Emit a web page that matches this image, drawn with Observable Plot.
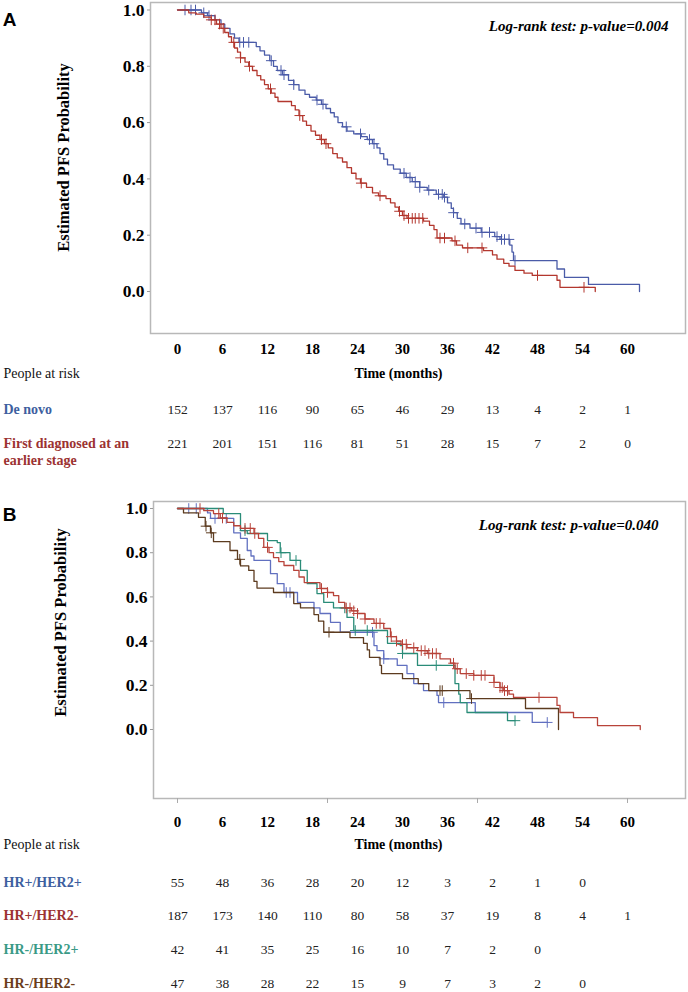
<!DOCTYPE html>
<html>
<head>
<meta charset="utf-8">
<script src="https://cdn.jsdelivr.net/npm/d3@7"></script>
<script src="https://cdn.jsdelivr.net/npm/@observablehq/plot@0.6"></script>
<style>
  html, body { margin: 0; padding: 0; background: #fff; overflow: hidden; }
  #chart svg { display: block; }
</style>
</head>
<body>
<div id="chart"></div>
<script>
// ---------- shared ----------
const months = [0, 6, 12, 18, 24, 30, 36, 42, 48, 54, 60];
const yTicks = [0, 0.2, 0.4, 0.6, 0.8, 1.0];

// ---------- Panel A data (time in months, survival after step) ----------
const deNovoSteps = [
  [0,1.0],[3.2,0.99],[4,0.98],[5,0.965],[5.8,0.95],[6.3,0.935],[7,0.915],[7.6,0.90],[8.2,0.885],
  [10.5,0.87],[11,0.855],[11.6,0.84],[12.3,0.82],[12.8,0.80],[13.3,0.785],[14,0.77],[14.8,0.75],
  [15.5,0.735],[16.2,0.715],[17,0.70],[17.6,0.69],[18.5,0.68],[19.2,0.665],[19.8,0.65],[20.4,0.635],
  [20.9,0.62],[21.4,0.60],[22,0.585],[22.6,0.57],[23.5,0.56],[24.5,0.55],[25.3,0.54],[26,0.525],
  [26.6,0.51],[27,0.49],[27.5,0.47],[28,0.45],[28.8,0.435],[29.7,0.42],[30.5,0.405],[31.3,0.39],
  [32.3,0.37],[33.3,0.36],[34.5,0.345],[35.5,0.335],[36,0.315],[36.5,0.295],[36.8,0.28],[37.3,0.26],
  [37.8,0.24],[39,0.225],[40.5,0.21],[42.3,0.195],[43,0.185],[44.3,0.165],[44.6,0.14],[44.8,0.11],
  [50.6,0.08],[51.6,0.05],[54.8,0.025],[61.6,0.0]
];
const earlierSteps = [
  [0,1.0],[1.5,0.99],[2.5,0.985],[3.5,0.975],[4.5,0.965],[5.2,0.95],[5.8,0.935],[6.3,0.92],[6.8,0.905],
  [7.2,0.885],[7.6,0.865],[8,0.85],[8.4,0.83],[9,0.815],[9.5,0.80],[10,0.785],[10.6,0.767],[11.1,0.752],
  [11.6,0.735],[12.1,0.72],[12.5,0.705],[13,0.69],[13.4,0.675],[15.2,0.66],[15.7,0.645],[16.2,0.625],
  [16.7,0.605],[17.2,0.59],[17.8,0.57],[18.4,0.555],[19,0.54],[19.6,0.525],[20.1,0.51],[20.7,0.49],
  [21.3,0.475],[22,0.46],[22.6,0.44],[23.2,0.42],[23.8,0.40],[24.4,0.385],[25.2,0.37],[26,0.35],
  [26.8,0.34],[27.8,0.33],[28.4,0.315],[29,0.30],[29.5,0.285],[30,0.27],[30.6,0.26],[32.8,0.25],
  [33.6,0.235],[34.2,0.22],[34.6,0.19],[36.6,0.18],[37.2,0.165],[38,0.155],[40.8,0.145],[42,0.13],
  [42.6,0.115],[43.5,0.10],[44.2,0.09],[45,0.075],[46.2,0.065],[47.3,0.057],[50.6,0.04],[51,0.015],[55.7,0.0]
];
const deNovoCensor = [1,1.8,2.4,3.5,4.2,8.3,8.8,9.5,12.5,13.8,14.2,15.5,18.6,19.4,22.5,24.4,25.6,26.2,
  30.2,31,31.7,32.3,33.5,34.8,35.3,35.6,36.8,38.3,39.8,40.6,41.6,42.6,43.2,43.6,44.2,45.0];
const earlierCensor = [4.5,5,5.6,6.1,7.5,8.4,9.6,12.4,16.3,19.2,19.8,24.5,27,29.6,30.2,30.8,31.3,31.7,
  32.2,32.7,35,35.6,37,38.7,40.6,48,54.2];
const deNovoRisk = [152, 137, 116, 90, 65, 46, 29, 13, 4, 2, 1];
const earlierRisk = [221, 201, 151, 116, 81, 51, 28, 15, 7, 2, 0];

// ---------- Panel B data ----------
const hrpHer2pSteps = [
  [0,1.0],[4,0.98],[4.4,0.955],[7.5,0.89],[8.4,0.865],[9.3,0.81],[9.8,0.785],[10.2,0.765],[12.4,0.705],
  [13.3,0.66],[14.2,0.62],[16,0.575],[18.2,0.55],[19,0.525],[20.4,0.485],[21.7,0.44],[26.2,0.38],
  [26.6,0.357],[27.5,0.32],[29.3,0.29],[30.6,0.253],[31.5,0.208],[32.8,0.176],[34.6,0.154],[34.8,0.122],
  [39.7,0.077],[47.3,0.032],[49.3,0.032]
];
const hrpHer2nSteps = [
  [0,1.0],[3.5,0.99],[4.8,0.977],[5.7,0.957],[6.6,0.937],[7.5,0.922],[8.4,0.91],[10.2,0.887],[10.8,0.865],
  [11.5,0.824],[12.2,0.80],[12.8,0.778],[13.5,0.76],[14.2,0.742],[15.5,0.72],[16.2,0.69],[16.9,0.665],
  [19,0.638],[20,0.62],[20.8,0.606],[21.5,0.575],[22.3,0.55],[23.2,0.537],[24,0.525],[25,0.50],
  [26.2,0.48],[27.5,0.457],[28.4,0.42],[29.2,0.40],[29.8,0.385],[30.6,0.37],[32,0.357],[33.3,0.344],
  [35,0.32],[36.4,0.30],[37,0.275],[37.7,0.253],[39.5,0.245],[42.2,0.213],[43,0.19],[43.5,0.176],
  [44.2,0.16],[44.8,0.145],[50.6,0.109],[51,0.077],[52.8,0.054],[56,0.018],[61.7,0.0]
];
const hrnHer2pSteps = [
  [0,1.0],[6.1,0.977],[8.4,0.90],[9.3,0.887],[12,0.855],[13.3,0.846],[13.7,0.80],[15,0.765],[16.4,0.72],
  [17.3,0.66],[18.6,0.615],[19.5,0.575],[20.8,0.55],[22.6,0.507],[23.5,0.448],[28,0.39],[29.7,0.38],
  [30,0.344],[32,0.29],[37,0.208],[37.5,0.16],[37.7,0.122],[38.6,0.077],[44,0.04],[45,0.04]
];
const hrnHer2nSteps = [
  [0,1.0],[0.8,0.98],[2.8,0.96],[3.7,0.92],[4.4,0.89],[4.8,0.85],[7,0.81],[8,0.77],[8.4,0.74],[9.5,0.72],
  [10.2,0.67],[10.6,0.64],[12.8,0.62],[15.5,0.57],[16.4,0.55],[18.2,0.52],[18.8,0.49],[19.5,0.44],
  [23,0.416],[24.8,0.39],[25.3,0.36],[25.6,0.326],[27,0.29],[27.2,0.253],[30,0.23],[32.1,0.208],
  [33.5,0.176],[39,0.14],[46.4,0.095],[50.8,0.0]
];
const hrpHer2pCensor = [1.5,2.5,5,6.5,14.5,15,26,27.5,35.5,49.3];
const hrpHer2nCensor = [3,5.5,6,9,9.7,10.3,12,19.2,20,22.5,23,23.5,24,25,26.5,27,28.5,29.2,30,30.5,31.5,
  32.5,33,33.5,34,34.5,36.8,37.3,38.5,39.5,40.5,41,42.2,43,43.3,43.6,44,48.2];
const hrnHer2pCensor = [9,13.8,15.8,22.3,23.7,25.3,30,34.5,45];
const hrnHer2nCensor = [3.8,4.5,8.3,20.2,35,35.3,39.2];
const hrpHer2pRisk = [55, 48, 36, 28, 20, 12, 3, 2, 1, 0];
const hrpHer2nRisk = [187, 173, 140, 110, 80, 58, 37, 19, 8, 4, 1];
const hrnHer2pRisk = [42, 41, 35, 25, 16, 10, 7, 2, 0];
const hrnHer2nRisk = [47, 38, 28, 22, 15, 9, 7, 3, 2, 0];

// ---------- helpers ----------
function survAt(steps, t) {
  let s = steps[0][1];
  for (const [tt, ss] of steps) { if (tt <= t) s = ss; else break; }
  return s;
}
function curve(steps, censor, color) {
  return [
    Plot.line(steps, {x: d => d[0], y: d => d[1], curve: "step-after", stroke: color, strokeWidth: 1.3}),
    Plot.dot(censor.map(t => [t, survAt(steps, t)]), {x: d => d[0], y: d => d[1], symbol: "plus", r: 3.5, stroke: color, strokeWidth: 1})
  ];
}
const serif = "Liberation Serif, Times New Roman, serif";
function riskRow(values, dy) {
  return Plot.text(values, {x: (d, i) => months[i], text: d => String(d), frameAnchor: "bottom", dy, fontSize: 13.5, fill: "#222"});
}
function label(str, dx, dy, color, bold = true) {
  return Plot.text([str], {text: d => d, frameAnchor: "bottom-left", dx, dy, textAnchor: "start", fill: color, fontWeight: bold ? "bold" : "normal", fontSize: 14});
}

// ---------- Panel A ----------
const blueA = "#4a5ba8", redA = "#b3372e";
const plotA = Plot.plot({
  width: 688, height: 485,
  marginLeft: 150, marginRight: 3, marginTop: 2, marginBottom: 152,
  style: {fontFamily: serif, background: "#fff", overflow: "visible", color: "#000"},
  x: {domain: [-3.6, 67.733]},
  y: {domain: [-0.1492, 1.0266]},
  marks: [
    Plot.frame({stroke: "#b8b8b8", strokeWidth: 1.5}),
    Plot.axisY({ticks: yTicks, tickFormat: d3.format(".1f"), tickSize: 3, tickPadding: 3, stroke: "#999",
      fontSize: 17.5, fontWeight: "bold", label: null}),
    Plot.axisX({ticks: months, tickSize: 0, tickPadding: 10, fontSize: 15, fontWeight: "bold", label: null}),
    ...curve(deNovoSteps, deNovoCensor, blueA),
    ...curve(earlierSteps, earlierCensor, redA),
    Plot.text(["Estimated PFS Probability"], {text: d => d, frameAnchor: "left", dx: -87, dy: -10.5, rotate: -90, textAnchor: "middle", fontSize: 16.5, fontWeight: "bold"}),
    Plot.text(["A"], {text: d => d, frameAnchor: "top-left", dx: -141, dy: 10, textAnchor: "middle", fontFamily: "Liberation Sans, Arial, sans-serif", fontWeight: "bold", fontSize: 19}),
    Plot.text(["Log-rank test: p-value=0.004"], {text: d => d, frameAnchor: "top-right", dx: -17, dy: 17.5, textAnchor: "end", fontStyle: "italic", fontWeight: "bold", fontSize: 15}),
    label("People at risk", -147, 44, "#111", false),
    Plot.text(["Time (months)"], {text: d => d, frameAnchor: "bottom", dx: -19.5, dy: 44, textAnchor: "middle", fontWeight: "bold", fontSize: 14}),
    label("De novo", -147, 80, "#3e5f9f"),
    label("First diagnosed at an", -147, 114, "#9c3232"),
    label("earlier stage", -147, 131, "#9c3232"),
    riskRow(deNovoRisk, 80),
    riskRow(earlierRisk, 114)
  ]
});

// ---------- Panel B ----------
const blueB = "#6170c0", redB = "#b8433a", tealB = "#2a8c78", brownB = "#5c3b1f";
const plotB = Plot.plot({
  width: 688, height: 507,
  marginLeft: 153, marginRight: 3, marginTop: 16, marginBottom: 194,
  style: {fontFamily: serif, background: "#fff", overflow: "visible", color: "#000"},
  x: {domain: [-3.2, 67.733]},
  y: {domain: [-0.3122, 1.0317]},
  marks: [
    Plot.frame({stroke: "#b8b8b8", strokeWidth: 1.5}),
    Plot.axisY({ticks: yTicks, tickFormat: d3.format(".1f"), tickSize: 3, tickPadding: 3, stroke: "#999",
      fontSize: 17.5, fontWeight: "bold", label: null}),
    Plot.axisX({ticks: [0, 20, 40, 60], tickSize: 5, stroke: "#aaa", tickFormat: () => "", label: null}),
    Plot.axisX({ticks: months, tickSize: 0, tickPadding: 18, fontSize: 15, fontWeight: "bold", label: null}),
    ...curve(hrpHer2pSteps, hrpHer2pCensor, blueB),
    ...curve(hrnHer2pSteps, hrnHer2pCensor, tealB),
    ...curve(hrnHer2nSteps, hrnHer2nCensor, brownB),
    ...curve(hrpHer2nSteps, hrpHer2nCensor, redB),
    Plot.text(["Estimated PFS Probability"], {text: d => d, frameAnchor: "left", dx: -93, dy: -27.5, rotate: -90, textAnchor: "middle", fontSize: 16.5, fontWeight: "bold"}),
    Plot.text(["B"], {text: d => d, frameAnchor: "top-left", dx: -144, dy: 5.5, textAnchor: "middle", fontFamily: "Liberation Sans, Arial, sans-serif", fontWeight: "bold", fontSize: 19}),
    Plot.text(["Log-rank test: p-value=0.040"], {text: d => d, frameAnchor: "top-right", dx: -27, dy: 17.5, textAnchor: "end", fontStyle: "italic", fontWeight: "bold", fontSize: 15}),
    label("People at risk", -150, 50, "#111", false),
    Plot.text(["Time (months)"], {text: d => d, frameAnchor: "bottom", dx: -21, dy: 50, textAnchor: "middle", fontWeight: "bold", fontSize: 14}),
    label("HR+/HER2+", -150, 88, "#3e5f9f"),
    label("HR+/HER2-", -150, 121, "#9c3232"),
    label("HR-/HER2+", -150, 155, "#3a9a86"),
    label("HR-/HER2-", -150, 189, "#6b3d1c"),
    riskRow(hrpHer2pRisk, 88),
    riskRow(hrpHer2nRisk, 121),
    riskRow(hrnHer2pRisk, 155),
    riskRow(hrnHer2nRisk, 189)
  ]
});

document.getElementById("chart").append(plotA, plotB);
</script>
</body>
</html>
